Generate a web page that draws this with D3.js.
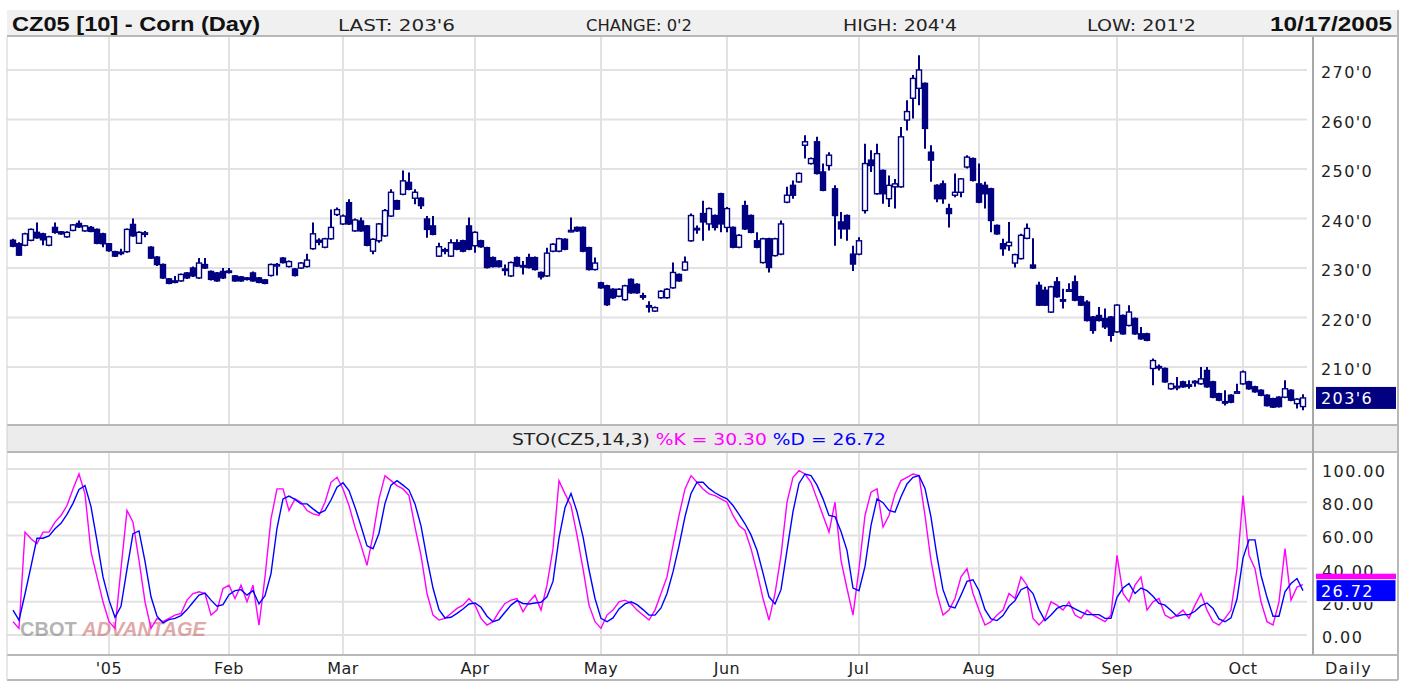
<!DOCTYPE html>
<html>
<head>
<script src="https://cdn.jsdelivr.net/npm/d3@7"></script>
<style>
  body { margin: 0; background: #fff; }
  text { font-family: "DejaVu Sans", sans-serif; }
  .bold { font-family: "Liberation Sans", Arial, sans-serif; font-weight: bold; }
</style>
</head>
<body>
<script>
// month labels and the bar index of each month's first session
var months = ["'05", "Feb", "Mar", "Apr", "May", "Jun", "Jul", "Aug", "Sep", "Oct"];
var monthBar = [16, 36, 55, 77, 98, 119, 141, 161, 184, 205];
var priceTicks = [210, 220, 230, 240, 250, 260, 270];
var stoTicks = [0, 20, 40, 60, 80, 100];

// daily OHLC, Dec 2004 - Oct 17 2005
var open = [235.6,234.9,234.6,235.6,237.2,236.9,234.6,238.2,237.3,236.3,237.6,239,237.5,238.2,237.8,236.9,
  234.9,233.3,233.2,233.3,238.8,235,236.9,234.2,232.2,230.7,227.8,227.4,227.4,229,230,228,230.7,229.3,229,229.3,
  229.4,228.4,228.2,228,229,228,227.6,228.5,230.6,232,230.3,229.8,230,230.3,233.9,235.6,234.2,235.9,240.8,
  238.9,243.2,237.5,239.5,238.5,233.4,235.5,236.5,240.5,243.6,244.9,247.3,244.1,244.1,239.9,238.5,232.4,233.7,232.4,235.1,235.5,238.5,
  234.5,235.5,234.1,232.1,231.4,229.8,228.4,232.1,230.5,232.1,232.1,229.1,228.4,233.4,233.4,235.8,237.4,238.2,238.2,234.1,229.7,
  227,226.4,225.7,224.3,223.6,227.7,226.7,224.4,222.4,221.3,224,224,226,228.7,229.6,235.5,238,241,238.9,240.6,245,
  238.2,238.2,234.2,242.6,240.6,235.5,231.1,235.9,232.5,232.8,243.3,246.7,247.4,254.8,251.1,255.5,249.4,250.7,246,239.3,240.6,232.8,
  232.8,241.6,251.8,245,249.7,244,246.4,246.4,259.9,264.3,266.3,267.3,253.4,246.7,247,242,244.7,245.3,250.4,252.1,
  247,246.7,246,238.6,234.9,234.5,231,231.9,236,230.6,226.5,225.5,221.1,227.2,223.6,225.4,227.2,224.2,223.1,220.1,220.4,219.8,220.1,
  217.1,220.4,218.4,219.8,216.7,216.7,209.7,210.1,209.7,205.6,206,207,206.4,207,206.6,209.3,207,204.6,203,204.3,204.9,
  206.6,207,206,205.3,204.3,203.6,203.9,203.9,205.3,202.6,202];
var high = [235.9,235.2,237.1,238,239.2,237.1,236.5,239.2,237.5,237.4,238.9,239.6,238.7,238.5,238,237.1,
  235,233.5,233.9,238,240,237.4,237.5,234.4,232.4,230.9,228,228.4,228.9,229.2,230.3,232,232,229.5,229.2,230,
  230,228.6,228.4,228.2,229.3,228.2,227.8,230.9,231,232.2,231.5,230,231.2,232.9,239.2,236,236.1,241.8,242.2,
  240.8,243.9,240,240.2,238.7,236,239.1,241.9,245.9,243.8,249.7,249.3,245.9,244.3,240.5,240.5,235.1,234.1,235.8,235.8,235.7,240.2,
  237.4,235.7,234.3,232.3,231.6,230.7,231.3,232.3,231.4,232.9,232.3,229.3,234.1,235,236.1,236,240.2,238.4,238.4,234.3,232.1,
  227.2,226.6,225.9,225.9,226.6,227.9,226.9,225,223.3,222.2,225.5,225.9,231.1,228.9,232.3,241,238.6,243.6,242.2,240.8,245.2,
  242.3,238.4,236.8,243.6,240.8,237.2,236.1,236.1,236.1,239.6,246.4,247.7,249.3,256.8,252.3,256.5,251.1,253.4,246.7,241.3,240.8,234.5,
  236.2,255.1,253.8,255.1,249.9,248.7,248,258.5,263.9,269,273,267.5,254.8,246.9,247.7,243,249.1,248.2,252.8,252.3,
  251.1,247.4,246.2,238.8,235.9,239.3,232.9,236.9,239,236,227.2,226.2,226.4,228.2,225.8,226.9,228.5,224.4,223.5,220.3,222.1,221.8,220.3,
  222.7,220.6,222.5,220,218.1,216.9,211.7,210.5,209.9,206.8,208,207.2,207.3,207.3,210,210,207.2,204.8,205.3,204.5,206.6,
  209.3,207.2,206.2,205.5,204.5,203.8,204.1,207.3,205.5,203.7,204.5];
var low = [234.2,232.4,234.4,235.4,235.9,234.6,234.4,236.9,236.7,236.1,237.4,238.1,237.3,237.2,234.8,234.2,
  233.3,232.2,232.6,233.1,236.3,234.9,236.2,231.8,230.4,227.8,226.7,226.9,227.2,227.8,228.2,227.8,229.8,227.5,227.2,227.8,
  228.9,227.2,227.2,227.5,227.2,226.9,226.7,228.3,228.5,230.9,230.1,228.3,229.8,230.1,233.7,234.6,234,235.7,240.5,
  238.7,238.7,237.3,237.3,234.4,232.8,235.1,236.3,240.3,241.7,244.7,245.7,242.9,241.9,236.1,236.6,232.2,232.8,232.2,233.6,233.2,233.6,
  233.1,234.1,229.9,230.1,230.1,228.5,228.2,230.2,228.7,229.9,229.5,227.7,228.2,233.2,233.2,233.6,237.2,237.3,233.2,229.5,229.5,
  225.8,222.3,223.8,224.1,223.4,224.8,224.8,223.6,221,221.1,223.8,223.8,225.8,227.2,229.4,235.3,236.9,235.5,237.6,237.6,237.2,
  237.2,234,234,237.7,237,234,230.9,229.1,232.3,232.6,243.1,244,247.2,252.1,250.9,248.9,245.5,249.7,234.5,235.9,235.5,229.4,
  232.6,241,249.4,244.8,243,242.3,242,246.2,257.8,260.2,262.9,254.1,247.4,243.3,243,238.2,244.3,244.3,250.1,247.5,
  243.1,242,237.2,236.7,232.5,233.5,230.1,231.7,235.8,229.8,222.3,222.3,220.9,224,221.8,225.2,223.3,222.3,219.2,216.7,219.2,217.7,215.1,
  216.9,216.5,218.2,216.5,215.5,215.2,206.3,209.3,206.8,205.4,205.3,205.8,205.6,206,206.4,205.8,203.7,203.1,202.2,202.7,204.8,
  206.4,205.4,204.8,204.1,202,201.7,201.8,203.7,203.1,201.6,201.25];
var close = [234.4,232.6,236.9,237.8,236.1,235.7,236.3,237.2,236.9,237.2,238.7,238.3,238.5,237.4,235,234.9,
  233.5,232.4,232.9,237.8,236.5,237.2,237.1,232,230.7,228,226.9,227.1,228.7,228,228.4,231,230,227.7,227.4,228,
  229.2,227.4,227.4,227.7,227.4,227.1,226.9,230.7,230.7,231.1,231.3,228.5,231,231.6,236.9,235.2,235.9,238.2,241.8,
  240.5,238.9,239.7,237.5,234.6,235.8,238.9,241.6,245.3,241.9,247.6,245.9,245.3,242.6,237.8,236.8,234.3,233.5,235.1,233.8,233.4,233.8,
  237.2,234.3,230.1,230.3,230.3,229.7,231.1,230.4,230.4,230.1,229.7,228.2,233,234.8,235.9,233.8,237.6,237.5,233.4,229.7,231,
  226,222.6,224,225.7,226.4,225,225,224.3,222.3,222,225.3,225.7,229.1,227.4,231.2,240.6,237.9,239.3,242,238.2,238.9,
  242,234.2,236.6,237.9,237.2,234.2,235.9,230.1,235.9,238.9,244.7,244.7,249.1,255.5,252.1,249.1,245.7,252.8,240.6,237.9,237.9,230.8,
  235.5,251.1,250.7,253.1,245,246.7,247,256.5,261.6,268.3,270,258.2,251.8,244,244,241,245.3,248,252.4,247.7,
  243.3,245,239.6,236.9,233.9,235.2,232.7,236.6,238,230,222.5,222.5,226.2,224.2,223.5,225.6,223.5,222.5,219.4,217.4,219.4,218.1,216.4,
  222.5,216.7,221.1,216.7,215.7,215.4,211.3,210,207,206.6,206.1,206,206.3,207.1,207.6,206,203.9,203.3,202.9,202.9,205,
  209,205.6,205,204.3,202.2,201.9,202,205.6,203.3,203.5,203.75];

// stochastic %K (pink)
var pctK = [8,4,62,58,55,62,62,68,72,78,88,97,85,50,35,20,
  8,4,40,75,68,45,20,4,10,8,10,12,13,21,25,26,25,12,15,28,
  30,22,30,20,30,6,35,70,88,88,75,82,80,75,73,72,80,92,95,
  88,78,65,54,42,60,82,96,93,90,88,84,65,48,25,12,9,10,13,16,18,22,
  18,10,6,8,14,19,21,22,14,20,24,15,30,52,93,85,78,60,40,18,8,
  4,12,15,20,21,19,15,12,9,15,25,35,54,72,88,96,92,88,85,84,82,
  80,72,66,63,52,38,22,9,25,48,80,95,99,97,92,82,72,62,80,45,28,12,
  40,72,86,88,65,72,85,93,95,97,96,72,45,25,12,15,22,35,40,25,
  15,6,8,12,15,25,22,35,30,10,6,10,20,18,15,20,12,10,15,12,10,8,12,
  48,25,20,30,35,15,20,22,12,10,12,15,10,18,25,15,8,6,10,15,40,
  84,48,40,20,8,6,20,52,21,28.9,30.3];
// stochastic %D (blue)
var pctD = [15,9,24.7,41.3,58.3,58.3,59.7,64,67.3,72.7,79.3,87.7,90,77.3,56.7,35,
  21,10.7,17.3,39.7,61,62.7,44.3,23,11.3,7.3,9.3,10,11.7,15.3,19.7,24,25.3,21,17.3,18.3,
  24.3,26.7,27.3,24,26.7,18.7,23.7,37,64.3,82,83.7,81.7,79,79,76,73.3,75,81.3,89,
  91.7,87,77,65.7,53.7,52,61.3,79.3,90.3,93,90.3,87.3,79,65.7,46,28.3,15.3,10.3,10.7,13,15.7,18.7,
  19.3,16.7,11.3,8,9.3,13.7,18,20.7,19,18.7,19.3,19.7,23,32.3,58.3,76.7,85.3,74.3,59.3,39.3,22,
  10,8,10.3,15.7,18.7,20,18.3,15.3,12,12,16.3,25,38,53.7,71.3,85.3,92,92,88.3,85.7,83.7,
  82,78,72.7,67,60.3,51,37.3,23,18.7,27.3,51,74.3,91.3,97,96,90.3,82,72,71.3,62.3,51,28.3,
  26.7,41.3,66,82,79.7,75,74,83.3,91,95,96,88.3,71,47.3,27.3,17.3,16.3,24,32.3,33.3,
  26.7,15.3,9.7,8.7,11.7,17.3,20.7,27.3,29,25,15.3,8.7,12,16,17.7,17.7,15.7,14,12.3,12.3,12.3,10,10,
  22.7,28.3,31,25,28.3,26.7,23.3,19,18,14.7,11.3,12.3,12.3,14.3,17.7,19.3,16,9.7,8,10.3,21.7,
  46.3,57.3,57.3,36,22.7,11.3,11.3,26,31,34,26.72];

var W = 1408, H = 682;
var L = 7, R = 1398, axisX = 1313;
var topY = 10, headB = 37, priceB = 425, stoHeadB = 452, stoB = 655, botY = 680;

var svg = d3.select('body').append('svg')
  .attr('width', W).attr('height', H);

var x = d3.scaleLinear().domain([0, 215]).range([13, 1303]);
var yP = d3.scaleLinear().domain([210, 270]).range([367, 70]);
var yS = d3.scaleLinear().domain([0, 100]).range([635, 469]);

function frac8(v) {
  var w = Math.floor(v + 1e-9);
  return w + "'" + Math.round((v - w) * 8);
}

// header band
svg.append('rect').attr('x', L).attr('y', topY).attr('width', R - L).attr('height', headB - topY)
  .attr('fill', '#f0f0f0');
svg.append('line').attr('x1', L).attr('x2', R).attr('y1', headB - 1).attr('y2', headB - 1)
  .attr('stroke', '#b8b8b8').attr('stroke-width', 2);
svg.append('text').attr('class', 'bold').attr('x', 12).attr('y', 31).attr('font-size', 21)
  .attr('textLength', 248).attr('lengthAdjust', 'spacingAndGlyphs')
  .attr('fill', '#111').text('CZ05 [10] - Corn (Day)');
var heads = [["LAST: 203'6", 338, 117], ["CHANGE: 0'2", 586, 106], ["HIGH: 204'4", 843, 114], ["LOW: 201'2", 1087, 109]];
heads.forEach(function(h) {
  svg.append('text').attr('x', h[1]).attr('y', 31).attr('font-size', 16).attr('fill', '#222')
    .attr('textLength', h[2]).attr('lengthAdjust', 'spacingAndGlyphs').text(h[0]);
});
svg.append('text').attr('class', 'bold').attr('x', 1270).attr('y', 31).attr('font-size', 21)
  .attr('textLength', 122).attr('lengthAdjust', 'spacingAndGlyphs')
  .attr('fill', '#111').text('10/17/2005');

// grids
var grid = svg.append('g').attr('stroke', '#e2e2e2').attr('stroke-width', 2);
priceTicks.forEach(function(t) {
  grid.append('line').attr('x1', L).attr('x2', axisX - 6).attr('y1', yP(t)).attr('y2', yP(t));
});
stoTicks.forEach(function(t) {
  grid.append('line').attr('x1', L).attr('x2', axisX - 6).attr('y1', yS(t)).attr('y2', yS(t));
});
monthBar.forEach(function(b) {
  grid.append('line').attr('x1', x(b)).attr('x2', x(b)).attr('y1', headB).attr('y2', priceB);
  grid.append('line').attr('x1', x(b)).attr('x2', x(b)).attr('y1', stoHeadB).attr('y2', stoB);
});

// sto header band
svg.append('rect').attr('x', L).attr('y', priceB).attr('width', R - L).attr('height', stoHeadB - priceB)
  .attr('fill', '#ececec');
svg.append('line').attr('x1', L).attr('x2', R).attr('y1', priceB).attr('y2', priceB)
  .attr('stroke', '#b8b8b8').attr('stroke-width', 2);
svg.append('line').attr('x1', L).attr('x2', R).attr('y1', stoHeadB).attr('y2', stoHeadB)
  .attr('stroke', '#b8b8b8').attr('stroke-width', 2);
var n = close.length;
var lastK = pctK[n - 1], lastD = pctD[n - 1];
var st = svg.append('text').attr('x', 512).attr('y', 445).attr('font-size', 16)
  .attr('textLength', 374).attr('lengthAdjust', 'spacingAndGlyphs');
st.append('tspan').attr('fill', '#222').text('STO(CZ5,14,3) ');
st.append('tspan').attr('fill', '#ff00ff').text('%K = ' + lastK.toFixed(2) + ' ');
st.append('tspan').attr('fill', '#0000ff').text('%D = ' + lastD.toFixed(2));

// watermark
var wm = svg.append('text').attr('class', 'bold').attr('x', 20).attr('y', 636).attr('font-size', 20)
  .attr('opacity', 0.55);
wm.append('tspan').attr('fill', '#777').text('CBOT ');
wm.append('tspan').attr('fill', '#c86464').attr('font-style', 'italic').text('ADVANTAGE');

// candles
var idx = d3.range(n);
var cg = svg.append('g');
cg.selectAll('line.wick').data(idx).join('line')
  .attr('x1', function(i) { return x(i); }).attr('x2', function(i) { return x(i); })
  .attr('y1', function(i) { return yP(high[i]); }).attr('y2', function(i) { return yP(low[i]); })
  .attr('stroke', '#000080').attr('stroke-width', 2);
cg.selectAll('rect.body').data(idx).join('rect')
  .attr('x', function(i) { return x(i) - 2.5; })
  .attr('width', 5)
  .attr('y', function(i) { return yP(Math.max(open[i], close[i])); })
  .attr('height', function(i) { return Math.max(1.5, Math.abs(yP(open[i]) - yP(close[i]))); })
  .attr('fill', function(i) { return close[i] > open[i] ? '#fff' : '#000080'; })
  .attr('stroke', '#000080').attr('stroke-width', 1.4);

// stochastic lines
var line = d3.line().x(function(d, i) { return x(i); }).y(function(d) { return yS(d); });
svg.append('path').datum(pctK).attr('d', line).attr('fill', 'none')
  .attr('stroke', '#ff00ff').attr('stroke-width', 1.4);
svg.append('path').datum(pctD).attr('d', line).attr('fill', 'none')
  .attr('stroke', '#0000ff').attr('stroke-width', 1.4);

// x axis band
svg.append('line').attr('x1', L).attr('x2', R).attr('y1', stoB).attr('y2', stoB)
  .attr('stroke', '#b8b8b8').attr('stroke-width', 2);
svg.append('line').attr('x1', L).attr('x2', R).attr('y1', botY).attr('y2', botY)
  .attr('stroke', '#b8b8b8').attr('stroke-width', 2);
monthBar.forEach(function(b, k) {
  svg.append('text').attr('x', x(b)).attr('y', 674).attr('font-size', 16).attr('text-anchor', 'middle')
    .attr('letter-spacing', 0.5).attr('fill', '#222').text(months[k]);
});
svg.append('text').attr('x', 1325).attr('y', 674).attr('font-size', 16)
  .attr('fill', '#222').attr('letter-spacing', 1.3).text('Daily');

// right axis
svg.append('line').attr('x1', axisX).attr('x2', axisX).attr('y1', headB).attr('y2', stoB)
  .attr('stroke', '#a8a8a8').attr('stroke-width', 2);
svg.append('line').attr('x1', R).attr('x2', R).attr('y1', topY).attr('y2', botY)
  .attr('stroke', '#b8b8b8').attr('stroke-width', 2);
svg.append('line').attr('x1', L).attr('x2', L).attr('y1', headB).attr('y2', botY)
  .attr('stroke', '#d0d0d0').attr('stroke-width', 1);
priceTicks.forEach(function(t) {
  svg.append('text').attr('x', 1321).attr('y', yP(t) + 8).attr('font-size', 16).attr('fill', '#222')
    .attr('letter-spacing', 1.4).text(frac8(t));
});
stoTicks.forEach(function(t) {
  svg.append('text').attr('x', 1322).attr('y', yS(t) + 8).attr('font-size', 16).attr('fill', '#222')
    .attr('letter-spacing', 1.4).text(t.toFixed(2));
});

// last value boxes
var lastP = close[n - 1];
svg.append('rect').attr('x', 1316).attr('y', yP(lastP) - 11).attr('width', 80).attr('height', 22)
  .attr('fill', '#000080');
svg.append('text').attr('x', 1321).attr('y', yP(lastP) + 6).attr('font-size', 16).attr('fill', '#fff')
  .attr('letter-spacing', 1.4).text(frac8(lastP));
svg.append('rect').attr('x', 1316).attr('y', yS(lastK) - 11).attr('width', 80).attr('height', 22)
  .attr('fill', '#ff00ff');
svg.append('rect').attr('x', 1316).attr('y', yS(lastD) - 11).attr('width', 80).attr('height', 22)
  .attr('fill', '#0000ff').attr('stroke', '#fff').attr('stroke-width', 1);
svg.append('text').attr('x', 1321).attr('y', yS(lastD) + 6).attr('font-size', 16).attr('fill', '#fff')
  .attr('letter-spacing', 1.4).text(lastD.toFixed(2));
</script>
</body>
</html>
